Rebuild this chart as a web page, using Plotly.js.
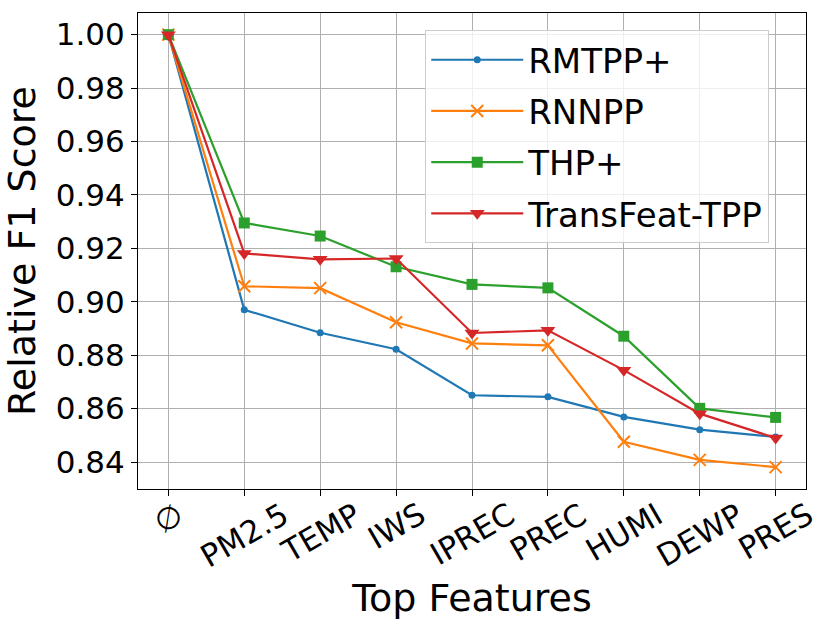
<!DOCTYPE html>
<html>
<head>
<meta charset="utf-8">
<script src="https://cdn.plot.ly/plotly-3.0.1.min.js"></script>
<style>
  html, body { margin: 0; padding: 0; background: white; }
  #graph { width: 830px; height: 632px; }
</style>
</head>
<body>
<div id="graph"></div>
<script>
var features = ['\u2205', 'PM2.5', 'TEMP', 'IWS', 'IPREC', 'PREC', 'HUMI', 'DEWP', 'PRES'];
var rmtpp = [1.000, 0.8970, 0.8884, 0.8822, 0.8650, 0.8644, 0.8569, 0.8521, 0.8494];
var rnnpp = [1.000, 0.9058, 0.9051, 0.8923, 0.8844, 0.8837, 0.8476, 0.8408, 0.8381];
var thp = [1.000, 0.9295, 0.9246, 0.9131, 0.9065, 0.9052, 0.8871, 0.8601, 0.8567];
var transfeat = [1.000, 0.9181, 0.9159, 0.9162, 0.8883, 0.8893, 0.8744, 0.8581, 0.8490];
var yTicks = [0.84, 0.86, 0.88, 0.90, 0.92, 0.94, 0.96, 0.98, 1.00];

function createGraph() {
var font = "DejaVu Sans, Liberation Sans, sans-serif";
var graph = document.querySelector('#graph');

var trace1 = {
  x: features, y: rmtpp, name: 'RMTPP+', legendgroup: 'a', type: 'scatter', mode: 'lines+markers',
  line: {color: '#1f77b4', width: 2.2},
  marker: {symbol: 'circle', size: 7, color: '#1f77b4'}
};
var trace2 = {
  x: features, y: rnnpp, name: 'RNNPP', legendgroup: 'b', type: 'scatter', mode: 'lines+markers',
  line: {color: '#ff7f0e', width: 2.2},
  marker: {symbol: 'x-thin-open', size: 12, color: '#ff7f0e', line: {color: '#ff7f0e', width: 2}}
};
var trace3 = {
  x: features, y: thp, name: 'THP+', legendgroup: 'c', type: 'scatter', mode: 'lines+markers',
  line: {color: '#2ca02c', width: 2.2},
  marker: {symbol: 'square', size: 11, color: '#2ca02c'}
};
var trace4 = {
  x: features, y: transfeat, name: 'TransFeat-TPP', legendgroup: 'd', type: 'scatter', mode: 'lines+markers',
  line: {color: '#d62728', width: 2.2},
  marker: {symbol: 'triangle-down', size: 13, color: '#d62728'}
};
var data = [trace1, trace2, trace3, trace4];

// rotated category labels, centred under each tick like matplotlib
var labels = features.map(function (f, i) {
  return {
    text: f, x: i, xref: 'x', y: 0, yref: 'paper',
    xanchor: 'center', yanchor: 'top', yshift: -4,
    textangle: -30, showarrow: false,
    font: {family: font, size: 31, color: 'black'}
  };
});

var layout = {
  width: 830,
  height: 632,
  margin: {l: 138, r: 24, t: 13, b: 143},
  paper_bgcolor: 'white',
  plot_bgcolor: 'white',
  font: {family: font, color: 'black'},
  xaxis: {
    type: 'category',
    range: [-0.4, 8.4],
    showgrid: true, gridcolor: '#b0b0b0', gridwidth: 1,
    showline: true, linecolor: 'black', linewidth: 1.2, mirror: true,
    ticks: 'outside', ticklen: 6, tickcolor: 'black',
    showticklabels: false,
    zeroline: false,
    title: {text: 'Top Features', font: {family: font, size: 38}, standoff: 89}
  },
  yaxis: {
    range: [0.8299, 1.0081],
    tickvals: yTicks,
    tickformat: '.2f',
    showgrid: true, gridcolor: '#b0b0b0', gridwidth: 1,
    showline: true, linecolor: 'black', linewidth: 1.2, mirror: true,
    ticks: 'outside', ticklen: 6, tickcolor: 'black',
    tickfont: {family: font, size: 31},
    zeroline: false,
    title: {text: 'Relative F1 Score', font: {family: font, size: 38}, standoff: 10}
  },
  legend: {
    x: 0.43, y: 0.964, xanchor: 'left', yanchor: 'top',
    bgcolor: 'rgba(255,255,255,0.8)',
    bordercolor: '#cccccc', borderwidth: 1,
    itemwidth: 92,
    tracegroupgap: 4,
    font: {family: font, size: 34, color: 'black'}
  },
  showlegend: true,
  annotations: labels
};

var config = {
  displayModeBar: false
};

Plotly.newPlot(graph, data, layout, config);
}

createGraph();
</script>
</body>
</html>
